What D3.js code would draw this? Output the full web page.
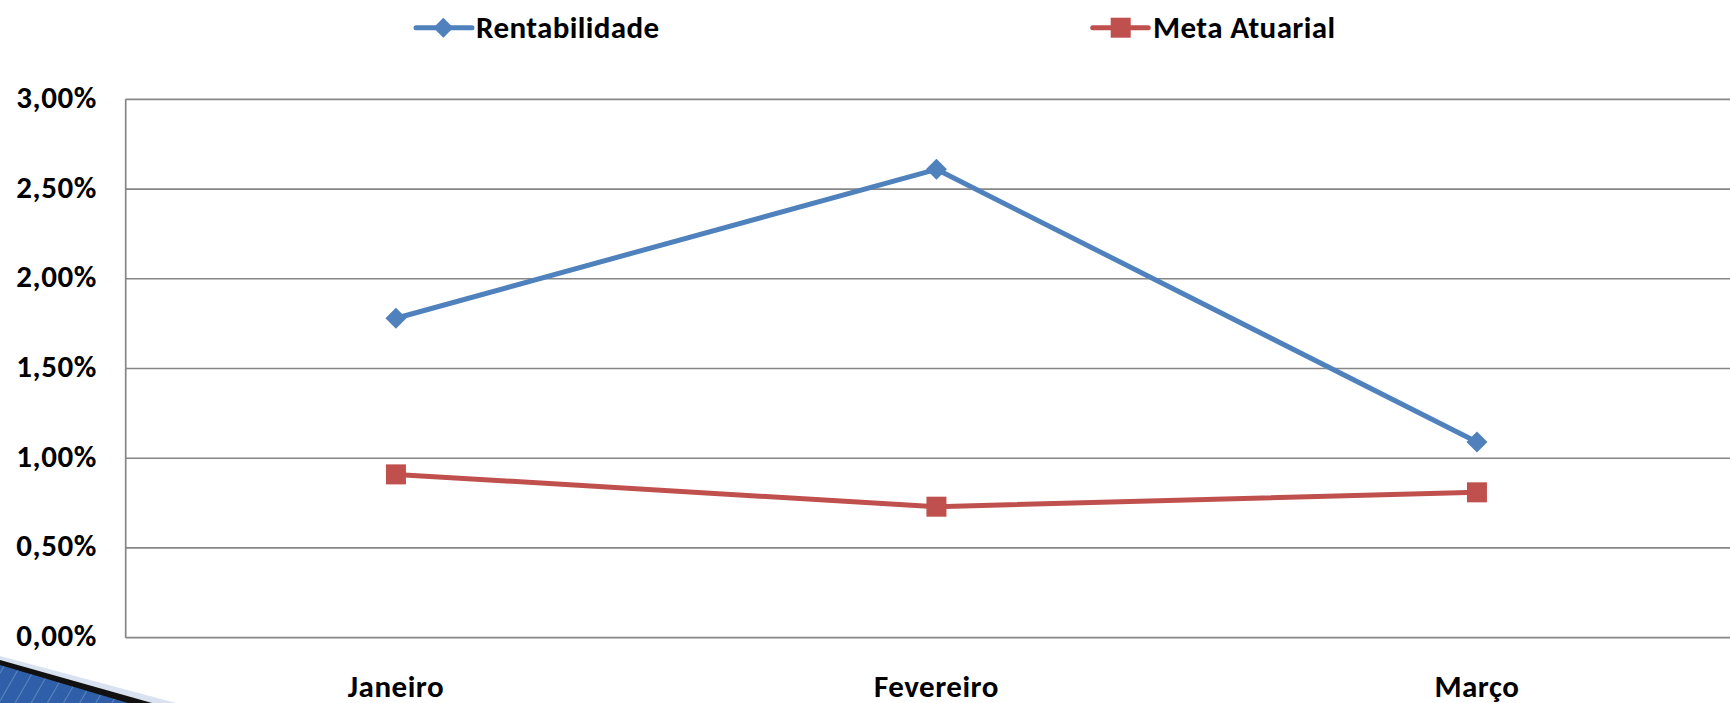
<!DOCTYPE html>
<html>
<head>
<meta charset="utf-8">
<script src="https://cdn.jsdelivr.net/npm/d3@7"></script>
<style>
  html, body { margin: 0; padding: 0; background: #fff; overflow: hidden; }
  svg { display: block; }
  text { font-family: Carlito, Calibri, "Open Sans", sans-serif; font-weight: bold; fill: #000; }
</style>
</head>
<body>
<svg id="chart" width="1730" height="703"></svg>
<script>
const categories = ["Janeiro", "Fevereiro", "Março"];
const rentabilidade = [0.0178, 0.0261, 0.0109];
const metaAtuarial = [0.0091, 0.0073, 0.0081];
const yTicks = [0, 0.005, 0.01, 0.015, 0.02, 0.025, 0.03];
const seriesNames = ["Rentabilidade", "Meta Atuarial"];
const colors = ["#4F81BD", "#C0504D"];

const svg = d3.select("#chart");
const plot = { left: 125.7, right: 1747.2, top: 99.3, bottom: 637.7 };

const x = d3.scaleBand().domain(categories).range([plot.left, plot.right]);
const cx = c => x(c) + x.bandwidth() / 2;
const y = d3.scaleLinear().domain([0, 0.03]).range([plot.bottom, plot.top]);

const fmt = v => (v * 100).toFixed(2).replace(".", ",") + "%";

// decoration (slide background corner)
const deco = svg.append("g");
const defs = svg.append("defs");
const pat = defs.append("pattern").attr("id", "stripes").attr("width", 14).attr("height", 14)
  .attr("patternUnits", "userSpaceOnUse").attr("patternTransform", "rotate(30)");
pat.append("rect").attr("width", 14).attr("height", 14).attr("fill", "#2E5FA8");
pat.append("line").attr("x1", 0).attr("y1", 0).attr("x2", 0).attr("y2", 14)
  .attr("stroke", "#6E93C9").attr("stroke-width", 1.5);
deco.append("polygon").attr("points", "0,656 176,703 0,703").attr("fill", "#C9D6EA").attr("opacity", 0.7);
deco.append("polygon").attr("points", "0,660 152,703 0,703").attr("fill", "#111");
deco.append("polygon").attr("points", "0,665 128,703 0,703").attr("fill", "url(#stripes)");

// gridlines
svg.append("g").selectAll("line").data(yTicks).join("line")
  .attr("x1", plot.left).attr("x2", plot.right)
  .attr("y1", d => y(d)).attr("y2", d => y(d))
  .attr("stroke", "#868686").attr("stroke-width", 1.7);

// y axis line
svg.append("line").attr("x1", plot.left).attr("x2", plot.left)
  .attr("y1", plot.top).attr("y2", plot.bottom)
  .attr("stroke", "#868686").attr("stroke-width", 1.7);

// y labels
svg.append("g").selectAll("text").data(yTicks).join("text")
  .attr("x", 97).attr("y", d => y(d) + 8.5)
  .attr("text-anchor", "end").attr("font-size", 31).attr("letter-spacing", 0.6)
  .text(fmt);

// x labels
svg.append("g").selectAll("text").data(categories).join("text")
  .attr("x", d => cx(d)).attr("y", 697)
  .attr("text-anchor", "middle").attr("font-size", 31).attr("letter-spacing", 0.5)
  .text(d => d);

const line = d3.line().x((d, i) => cx(categories[i])).y(d => y(d));

// Meta Atuarial
svg.append("path").datum(metaAtuarial).attr("d", line)
  .attr("fill", "none").attr("stroke", colors[1]).attr("stroke-width", 5).attr("stroke-linejoin", "round");
svg.append("g").selectAll("rect").data(metaAtuarial).join("rect")
  .attr("x", (d, i) => cx(categories[i]) - 10).attr("y", d => y(d) - 10)
  .attr("width", 20).attr("height", 20).attr("fill", colors[1]);

// Rentabilidade
svg.append("path").datum(rentabilidade).attr("d", line)
  .attr("fill", "none").attr("stroke", colors[0]).attr("stroke-width", 5).attr("stroke-linejoin", "round");
const diamond = (px, py, r) => `M${px},${py - r}L${px + r},${py}L${px},${py + r}L${px - r},${py}Z`;
svg.append("g").selectAll("path").data(rentabilidade).join("path")
  .attr("d", (d, i) => diamond(cx(categories[i]), y(d), 10.5)).attr("fill", colors[0]);

// legend
const leg = [
  { name: seriesNames[0], color: colors[0], x0: 416, x1: 472, mx: 443.3, tx: 476, shape: "diamond" },
  { name: seriesNames[1], color: colors[1], x0: 1092.7, x1: 1148.3, mx: 1120.7, tx: 1153, shape: "square" }
];
const ly = 27.7;
const lg = svg.append("g").selectAll("g").data(leg).join("g");
lg.append("line").attr("x1", d => d.x0).attr("x2", d => d.x1).attr("y1", ly).attr("y2", ly)
  .attr("stroke", d => d.color).attr("stroke-width", 5).attr("stroke-linecap", "round");
lg.filter(d => d.shape === "diamond").append("path")
  .attr("d", d => diamond(d.mx, ly, 10)).attr("fill", d => d.color);
lg.filter(d => d.shape === "square").append("rect")
  .attr("x", d => d.mx - 10).attr("y", ly - 10).attr("width", 20).attr("height", 20).attr("fill", d => d.color);
lg.append("text").attr("x", d => d.tx).attr("y", ly + 10).attr("font-size", 31).attr("letter-spacing", 0.4)
  .text(d => d.name);
</script>
</body>
</html>
